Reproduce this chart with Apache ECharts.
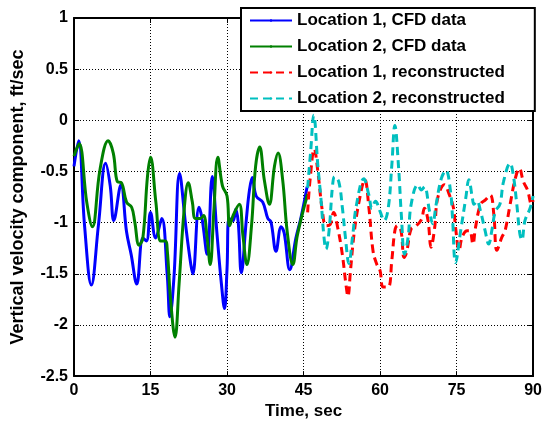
<!DOCTYPE html>
<html><head><meta charset="utf-8">
<script src="https://cdn.jsdelivr.net/npm/echarts@6/dist/echarts.min.js"></script>
<style>html,body{margin:0;padding:0;background:#fff}#c{width:545px;height:425px}</style>
</head><body><div id="c"></div>
<script>
// Location 1, CFD data (blue)
const loc1CfdT = [0,0.9,2.07,3.4,4.8,6.2,7.1,7.8,9.2,10.3,11.2,12.3,13.5,14.2,15.0,16.0,17.2,18.3,18.8,19.6,20.7,21.9,22.9,23.3,24.5,25.1,26.1,27.1,28.0,28.9,29.5,30.0,30.4,31.2,31.7,32.2,32.8,33.8,34.4,34.95,35.7,37.0,38.0,38.6,39.6,40.6,41.2,42.3,43.5,44.5,45.7];
const loc1CfdV = [-0.45,-0.2,-1.03,-1.61,-1.02,-0.42,-0.64,-0.98,-0.63,-1.09,-1.31,-1.6,-1.15,-1.18,-0.9,-1.15,-0.96,-1.53,-1.92,-1.53,-0.52,-1.03,-1.41,-1.5,-0.85,-0.96,-1.31,-0.55,-1.09,-1.6,-1.84,-1.45,-0.96,-0.98,-0.87,-1.0,-1.49,-0.96,-0.68,-0.56,-0.74,-0.8,-0.96,-0.99,-1.28,-1.04,-1.1,-1.46,-1.15,-0.95,-0.65];
// Location 2, CFD data (green)
const loc2CfdT = [0,1.0,2.5,3.6,5.1,6.7,7.7,8.5,9.3,10.3,11.3,11.9,12.75,13.5,14.4,15.0,16.05,17.0,17.9,18.3,18.9,19.8,20.6,21.6,22.4,23.2,23.8,24.8,25.4,26.1,26.7,27.4,28.2,29.1,30.0,30.5,31.2,32.4,33.1,33.9,34.8,35.6,36.4,37.3,38.3,39.3,40.0,40.9,41.8,42.9,43.8,45.8];
const loc2CfdV = [-0.35,-0.23,-0.8,-1.04,-0.48,-0.2,-0.32,-0.6,-0.61,-0.8,-0.85,-0.99,-1.22,-1.15,-0.55,-0.36,-0.8,-1.18,-1.18,-1.28,-1.73,-2.12,-1.6,-0.87,-0.61,-0.8,-0.96,-0.96,-0.93,-1.15,-1.41,-0.9,-0.36,-0.64,-0.74,-1.03,-0.93,-0.82,-1.12,-1.41,-1.03,-0.45,-0.26,-0.58,-0.82,-0.45,-0.32,-0.58,-1.09,-1.41,-1.12,-0.72];
// Location 1, reconstructed (red dashed)
const loc1RecT = [45.8,46.3,47.1,47.8,48.7,49.4,50.2,50.9,51.7,52.6,53.3,53.7,54.2,54.9,55.9,57.0,57.8,58.6,59.3,60.0,60.6,61.6,62.3,62.9,63.4,64.1,64.7,65.2,66.1,67.1,68.1,68.7,69.4,70.0,70.7,71.3,72.6,73.6,74.4,74.8,75.5,76.1,77.1,77.6,78.2,78.7,79.7,80.6,81.6,82.3,82.9,83.9,84.5,85.5,86.5,87.3,88.1,88.9,89.7,90];
const loc1RecV = [-0.9,-0.57,-0.28,-0.5,-0.89,-1.03,-1.02,-0.9,-1.05,-1.31,-1.6,-1.72,-1.47,-1.11,-0.79,-0.58,-0.85,-1.27,-1.4,-1.47,-1.63,-1.63,-1.37,-1.08,-1.03,-1.08,-1.34,-1.29,-1.06,-1.03,-0.97,-0.86,-0.98,-1.24,-1.05,-0.76,-0.63,-0.73,-0.86,-1.05,-1.27,-1.14,-1.08,-1.08,-1.21,-1.05,-0.82,-0.78,-0.73,-0.92,-1.27,-1.14,-1.08,-0.82,-0.57,-0.47,-0.6,-0.68,-0.82,-0.78];
// Location 2, reconstructed (cyan dashed)
const loc2RecT = [45.8,46.4,47.0,47.8,48.4,49.0,49.4,50.0,50.7,51.1,51.9,52.6,53.2,53.9,54.6,55.4,56.8,57.8,58.4,59.1,60.0,60.8,61.6,62.3,62.9,63.6,64.2,64.8,65.5,66.1,67.4,68.1,68.7,69.7,70.3,71.0,72.0,72.9,73.8,74.2,74.8,75.8,76.8,77.4,78.1,78.4,79.0,79.7,80.6,81.3,81.9,82.6,83.5,84.2,85.5,86.1,86.8,87.4,87.8,88.4,89.4,90];
const loc2RecV = [-0.66,-0.3,0.05,-0.44,-0.76,-1.14,-1.26,-1.08,-0.63,-0.55,-0.6,-0.85,-1.14,-1.4,-1.14,-0.82,-0.57,-0.73,-0.86,-0.79,-0.89,-0.98,-0.86,-0.44,-0.05,-0.44,-0.95,-1.31,-1.14,-0.82,-0.63,-0.68,-0.65,-0.89,-1.01,-0.82,-0.57,-0.49,-0.69,-0.95,-1.39,-1.08,-0.76,-0.58,-0.76,-0.82,-0.79,-0.89,-1.08,-1.21,-1.08,-0.89,-0.82,-0.6,-0.42,-0.53,-0.82,-1.11,-1.17,-0.98,-0.86,-0.74];

const seriesNames = ['Location 1, CFD data','Location 2, CFD data','Location 1, reconstructed','Location 2, reconstructed'];
const xTicks = [0,15,30,45,60,75,90];
const yTicks = [-2.5,-2,-1.5,-1,-0.5,0,0.5,1];

const zip = (t, v) => t.map((x, i) => [x, v[i]]);
const F = 'Liberation Sans, Arial, sans-serif';
const axisLine = {show: true, onZero: false, lineStyle: {color: '#000', width: 2}};
const tick = {show: true, inside: true, length: 5, lineStyle: {color: '#000', width: 1}};
const grid = {show: true, lineStyle: {color: '#000', width: 1, type: [1, 2]}};

const chart = echarts.init(document.getElementById('c'), null, {renderer: 'canvas'});
const mk = (name, t, v, color, dashed) => ({
  name, type: 'line', data: zip(t, v), showSymbol: false, symbol: 'none', smooth: 0.4,
  lineStyle: {color, width: 3, type: dashed ? [8, 5] : 'solid'}, itemStyle: {color},
  animation: false, z: 3
});
chart.setOption({
  animation: false,
  backgroundColor: '#fff',
  grid: {left: 74, right: 8, top: 18, bottom: 45},
  legend: {
    orient: 'vertical', left: 241, top: 8, z: 10,
    itemWidth: 42, itemHeight: 3, itemGap: 9,
    padding: [4, 30, 4, 8],
    borderColor: '#000', borderWidth: 2, backgroundColor: '#fff',
    textStyle: {fontFamily: F, fontWeight: 'bold', fontSize: 17, color: '#000'},
    data: seriesNames
  },
  xAxis: [{
    type: 'value', min: 0, max: 90, interval: 15, position: 'bottom',
    axisLine, axisTick: tick, splitLine: grid,
    axisLabel: {fontFamily: F, fontWeight: 'bold', fontSize: 16, color: '#000', margin: 6},
    name: 'Time, sec', nameLocation: 'middle', nameGap: 26,
    nameTextStyle: {fontFamily: F, fontWeight: 'bold', fontSize: 17, color: '#000'}
  }, {
    type: 'value', min: 0, max: 90, interval: 15, position: 'top',
    axisLine, axisTick: tick, splitLine: {show: false}, axisLabel: {show: false}
  }],
  yAxis: [{
    type: 'value', min: -2.5, max: 1, interval: 0.5, position: 'left',
    axisLine, axisTick: tick, splitLine: grid,
    axisLabel: {fontFamily: F, fontWeight: 'bold', fontSize: 16, color: '#000', margin: 6},
    name: 'Vertical velocity component, ft/sec', nameLocation: 'middle', nameGap: 47,
    nameTextStyle: {fontFamily: F, fontWeight: 'bold', fontSize: 18, color: '#000'}
  }, {
    type: 'value', min: -2.5, max: 1, interval: 0.5, position: 'right',
    axisLine, axisTick: tick, splitLine: {show: false}, axisLabel: {show: false}
  }],
  series: [
    mk(seriesNames[0], loc1CfdT, loc1CfdV, '#0000FF', false),
    mk(seriesNames[1], loc2CfdT, loc2CfdV, '#008000', false),
    mk(seriesNames[2], loc1RecT, loc1RecV, '#FF0000', true),
    mk(seriesNames[3], loc2RecT, loc2RecV, '#00BFBF', true)
  ]
});
</script></body></html>
